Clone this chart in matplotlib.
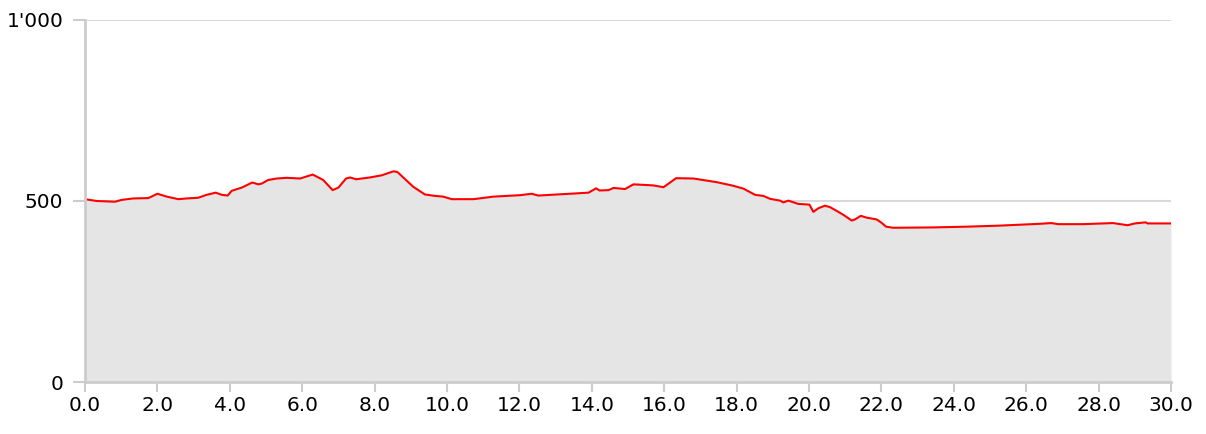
import numpy as np
import matplotlib.pyplot as plt
from matplotlib.ticker import FuncFormatter

# distance (km) and elevation (m)
distance = [0.0, 0.32, 0.83, 1.01, 1.33, 1.75, 2.0, 2.26, 2.58, 2.81, 3.13, 3.36,
            3.61, 3.78, 3.94, 4.05, 4.33, 4.62, 4.79, 4.88, 5.06, 5.29, 5.57, 5.94,
            6.29, 6.58, 6.84, 7.0, 7.21, 7.32, 7.49, 7.87, 8.2, 8.52, 8.63, 9.07,
            9.39, 9.67, 9.9, 10.13, 10.73, 11.28, 12.02, 12.34, 12.52, 13.4, 13.91,
            14.12, 14.21, 14.46, 14.6, 14.92, 15.15, 15.52, 15.7, 15.98, 16.33, 16.81,
            17.45, 17.91, 18.19, 18.51, 18.74, 18.92, 19.2, 19.29, 19.43, 19.7, 20.01,
            20.12, 20.26, 20.44, 20.58, 20.81, 20.99, 21.18, 21.27, 21.43, 21.59, 21.87,
            22.0, 22.13, 22.33, 23.44, 24.35, 25.28, 26.38, 26.7, 26.88, 27.57, 28.4,
            28.8, 29.0, 29.3, 29.35, 30.0]
elevation = [505, 500, 498, 503, 507, 508, 520, 512, 505, 507, 509, 517,
             523, 517, 515, 528, 537, 551, 546, 548, 558, 562, 564, 562,
             573, 558, 530, 537, 562, 565, 560, 565, 571, 582, 580, 539,
             518, 514, 512, 505, 505, 512, 516, 520, 515, 520, 523,
             535, 529, 530, 536, 533, 546, 544, 543, 538, 563, 562,
             552, 542, 534, 517, 514, 506, 501, 496, 501, 492, 490,
             470, 480, 487, 483, 470, 459, 446, 449, 459, 454, 449,
             440, 429, 426, 427, 429, 432, 437, 439, 436, 436, 439,
             433, 438, 441, 438, 438]

x_ticks = np.arange(0, 31, 2)
y_ticks = [0, 500, 1000]

fig = plt.figure(figsize=(12.06, 4.34), dpi=100)
ax = fig.add_axes([0.0705, 0.1198, 0.9005, 0.8342])

ax.fill_between(distance, elevation, 0, color='#e5e5e5', linewidth=0, zorder=1)
ax.plot(distance, elevation, color='#ff0000', linewidth=1.5, zorder=2)

ax.set_xlim(0, 30)
ax.set_ylim(0, 1000)
ax.set_xticks(x_ticks)
ax.set_yticks(y_ticks)
ax.xaxis.set_major_formatter(FuncFormatter(lambda v, p: '%.1f' % v))
ax.yaxis.set_major_formatter(FuncFormatter(lambda v, p: '{:,.0f}'.format(v).replace(',', "'")))

# grid lines sit behind the filled profile
ax.set_axisbelow(True)
ax.grid(axis='y', color='#d9d9d9', linewidth=1.5)
for s in ['top', 'right']:
    ax.spines[s].set_visible(False)
for s in ['left', 'bottom']:
    ax.spines[s].set_color('#cccccc')
    ax.spines[s].set_linewidth(2)
    ax.spines[s].set_zorder(3)
ax.tick_params(axis='x', length=7, width=1.5, color='#cccccc', labelsize=14.5, pad=3)
ax.tick_params(axis='y', length=9, width=1.5, color='#cccccc', labelsize=14.5, pad=6.5)

fig.savefig('out.png', dpi=100)
